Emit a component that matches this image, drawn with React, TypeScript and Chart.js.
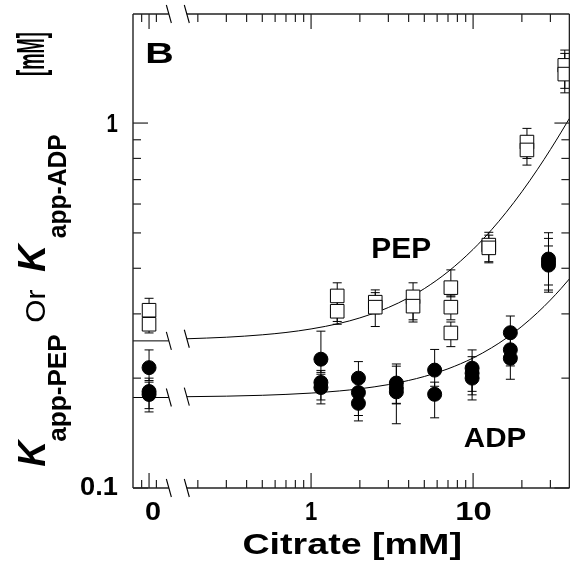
import React, { useEffect, useRef } from "react";
import { Chart, registerables } from "chart.js";

Chart.register(...registerables);

// ---- axis constants (broken log axis: citrate = 0 is placed at ZERO_POS) ----
const ZERO_POS = 0.1;
const BREAK_LO = 0.1325;
const BREAK_HI = 0.171;
const X_MIN = 0.0796;
const X_MAX = 39.3;
const Y_MIN = 0.1;
const Y_MAX = 1.99;

// ---- PEP (open squares) ----
const pepCitrate = [0, 0, 1.45, 1.45, 2.49, 2.49, 4.26, 4.26, 7.29, 7.29, 7.29, 12.5, 12.5, 21.5, 21.5, 36.8, 36.8];
const pepK = [0.307, 0.281, 0.336, 0.305, 0.323, 0.313, 0.334, 0.315, 0.354, 0.313, 0.266, 0.463, 0.455, 0.887, 0.844, 1.439, 1.362];
const pepLow = [0.29, 0.266, 0.286, 0.281, 0.3, 0.277, 0.289, 0.285, 0.334, 0.289, 0.244, 0.417, 0.414, 0.8, 0.767, 1.245, 1.21];
const pepHigh = [0.331, 0.295, 0.365, 0.33, 0.349, 0.343, 0.365, 0.34, 0.396, 0.336, 0.285, 0.502, 0.493, 0.967, 0.92, 1.585, 1.552];

// ---- ADP (filled circles) ----
const adpCitrate = [0, 0, 0, 1.15, 1.15, 1.15, 1.96, 1.96, 1.96, 3.36, 3.36, 3.36, 5.79, 5.79, 9.86, 9.86, 9.86, 16.98, 16.98, 16.98, 29.2, 29.2, 29.2];
const adpK = [0.2137, 0.1838, 0.1804, 0.2254, 0.1946, 0.1885, 0.2, 0.1826, 0.1706, 0.1939, 0.188, 0.1834, 0.2104, 0.1806, 0.213, 0.2063, 0.2, 0.2664, 0.2392, 0.2267, 0.424, 0.408, 0.416];
const adpLow = [0.197, 0.1616, 0.165, 0.2074, 0.1743, 0.17, 0.185, 0.158, 0.1527, 0.1706, 0.15, 0.17, 0.19, 0.1557, 0.184, 0.18, 0.1743, 0.245, 0.216, 0.1986, 0.3487, 0.344, 0.36];
const adpHigh = [0.239, 0.2, 0.195, 0.269, 0.21, 0.205, 0.222, 0.2, 0.185, 0.2187, 0.2157, 0.2, 0.2397, 0.195, 0.239, 0.229, 0.215, 0.296, 0.26, 0.24, 0.5006, 0.483, 0.4605];

// ---- fitted curves ----
const curveZeroX = [X_MIN, BREAK_LO];
const pepCurveZeroY = [0.253, 0.253];
const adpCurveZeroY = [0.177, 0.177];
const curveX = [0.171, 0.3, 0.5, 0.7, 1, 1.5, 2, 3, 4, 5, 7, 10, 13, 16, 20, 25, 30, 35, 39.3];
const pepCurveY = [0.2564, 0.2589, 0.2629, 0.2668, 0.2728, 0.2826, 0.2925, 0.3123, 0.3321, 0.3518, 0.3914, 0.4507, 0.51, 0.5693, 0.6483, 0.7472, 0.846, 0.9448, 1.0298];
const adpCurveY = [0.1779, 0.1785, 0.1795, 0.1805, 0.182, 0.1845, 0.187, 0.192, 0.1971, 0.2021, 0.2121, 0.2271, 0.2422, 0.2572, 0.2773, 0.3024, 0.3274, 0.3525, 0.3741];

// ---- ticks ----
const xMajorTicks = [0.1, 1, 10];
const xTickLabels = ["0", "1", "10"];
const xMinorTicks = [0.09, 0.111, 0.2, 0.3, 0.4, 0.5, 0.6, 0.7, 0.8, 0.9, 2, 3, 4, 5, 6, 7, 8, 9, 20, 30];
const yMajorTicks = [0.1, 1];
const yTickLabels = ["0.1", "1"];
const yMinorTicks = [0.2, 0.3, 0.4, 0.5, 0.6, 0.7, 0.8, 0.9];

// ---- annotations (data coordinates) ----
const annoText = ["B", "PEP", "ADP"];
const annoX = [0.0985, 2.39, 8.77];
const annoY = [1.457, 0.427, 0.1298];

const FONT = '"Liberation Sans", Arial, Helvetica, sans-serif';

function toPts(xs: number[], ys: number[]) {
  return xs.map((x, i) => ({ x: x === 0 ? ZERO_POS : x, y: ys[i] }));
}

function inkText(ctx: CanvasRenderingContext2D, text: string, font: string, x0: number, x1: number, baseline: number) {
  ctx.save();
  ctx.font = font;
  ctx.textAlign = "left";
  ctx.textBaseline = "alphabetic";
  const m = ctx.measureText(text);
  const inkW = m.actualBoundingBoxLeft + m.actualBoundingBoxRight;
  const sx = (x1 - x0) / inkW;
  ctx.translate(x0, baseline);
  ctx.scale(sx, 1);
  ctx.fillText(text, m.actualBoundingBoxLeft, 0);
  ctx.restore();
}

function inkTextUp(ctx: CanvasRenderingContext2D, text: string, font: string, yBottom: number, yTop: number, baseX: number) {
  ctx.save();
  ctx.font = font;
  ctx.textAlign = "left";
  ctx.textBaseline = "alphabetic";
  const m = ctx.measureText(text);
  const inkW = m.actualBoundingBoxLeft + m.actualBoundingBoxRight;
  const sx = (yBottom - yTop) / inkW;
  ctx.translate(baseX, yBottom);
  ctx.rotate(-Math.PI / 2);
  ctx.scale(sx, 1);
  ctx.fillText(text, m.actualBoundingBoxLeft, 0);
  ctx.restore();
}

function seg(ctx: CanvasRenderingContext2D, x1: number, y1: number, x2: number, y2: number) {
  ctx.beginPath();
  ctx.moveTo(x1, y1);
  ctx.lineTo(x2, y2);
  ctx.stroke();
}

const decorPlugin = {
  id: "decor",
  beforeDatasetsDraw(chart: any) {
    const ctx: CanvasRenderingContext2D = chart.ctx;
    const ys = chart.scales.y;
    ctx.save();
    ctx.strokeStyle = "#000";
    ctx.lineWidth = 1;
    chart.data.datasets.forEach((ds: any, i: number) => {
      if (!ds.errLow) return;
      const meta = chart.getDatasetMeta(i);
      meta.data.forEach((el: any, j: number) => {
        const x = el.x;
        const yl = ys.getPixelForValue(ds.errLow[j]);
        const yh = ys.getPixelForValue(ds.errHigh[j]);
        seg(ctx, x, yl, x, yh);
        seg(ctx, x - 4.5, yl, x + 4.5, yl);
        seg(ctx, x - 4.5, yh, x + 4.5, yh);
      });
    });
    ctx.restore();
  },
  afterDraw(chart: any) {
    const ctx: CanvasRenderingContext2D = chart.ctx;
    const xs = chart.scales.x;
    const ys = chart.scales.y;
    const { left, right, top, bottom } = chart.chartArea;
    const bLo = xs.getPixelForValue(BREAK_LO);
    const bHi = xs.getPixelForValue(BREAK_HI);
    ctx.save();
    ctx.strokeStyle = "#222";
    ctx.lineWidth = 1.4;
    // axis lines
    seg(ctx, left, top, left, bottom);
    seg(ctx, right, top, right, bottom);
    seg(ctx, left, bottom, bLo, bottom);
    seg(ctx, bHi, bottom, right, bottom);
    seg(ctx, left, top, bLo, top);
    seg(ctx, bHi, top, right, top);
    // ticks
    ctx.lineWidth = 1.2;
    const MAJ = 15, MIN = 8;
    xMajorTicks.forEach((v) => {
      const px = xs.getPixelForValue(v);
      seg(ctx, px, bottom, px, bottom - MAJ);
      seg(ctx, px, top, px, top + MAJ);
    });
    xMinorTicks.forEach((v) => {
      const px = xs.getPixelForValue(v);
      seg(ctx, px, bottom, px, bottom - MIN);
      seg(ctx, px, top, px, top + MIN);
    });
    yMajorTicks.forEach((v) => {
      const py = ys.getPixelForValue(v);
      seg(ctx, left, py, left + MAJ, py);
      seg(ctx, right, py, right - MAJ, py);
    });
    yMinorTicks.forEach((v) => {
      const py = ys.getPixelForValue(v);
      seg(ctx, left, py, left + MIN, py);
      seg(ctx, right, py, right - MIN, py);
    });
    // break slashes
    ctx.lineWidth = 1.1;
    ctx.strokeStyle = "#000";
    const slash = (x: number, y: number) => seg(ctx, x - 2.5, y - 9, x + 2.5, y + 9);
    [bLo, bHi].forEach((x) => {
      slash(x, bottom);
      slash(x, top);
    });
    slash(bLo, ys.getPixelForValue(pepCurveZeroY[1]));
    slash(bHi, ys.getPixelForValue(pepCurveY[0]));
    slash(bLo, ys.getPixelForValue(adpCurveZeroY[1]));
    slash(bHi, ys.getPixelForValue(adpCurveY[0]));
    ctx.restore();

    // tick labels
    ctx.save();
    ctx.fillStyle = "#000";
    const tickFont = `bold 25px ${FONT}`;
    const xInk = [15, 11.5, 34];
    xMajorTicks.forEach((v, i) => {
      const px = xs.getPixelForValue(v) + (i === 0 ? 3.5 : 0.5);
      inkText(ctx, xTickLabels[i], tickFont, px - xInk[i] / 2, px + xInk[i] / 2, 520);
    });
    const yInk = [38, 10.6];
    yMajorTicks.forEach((v, i) => {
      const py = ys.getPixelForValue(v);
      const base = i === 0 ? py + 6.5 : py + 8.5;
      inkText(ctx, yTickLabels[i], tickFont, 118 - yInk[i], 118, base);
    });

    // x title
    const cx = (left + right) / 2 + 1;
    inkText(ctx, "Citrate [mM]", `bold 30px ${FONT}`, cx - 108.5, cx + 108.5, 553.5);

    // y title (rotated pieces)
    const kFont = `italic bold 39px ${FONT}`;
    const subFont = `bold 25px ${FONT}`;
    inkTextUp(ctx, "K", kFont, 466.7, 438.3, 45);
    inkTextUp(ctx, "app-PEP", subFont, 441.7, 335, 65.5);
    inkTextUp(ctx, "Or", `28px ${FONT}`, 321.7, 290, 45);
    inkTextUp(ctx, "K", kFont, 272, 242, 45);
    inkTextUp(ctx, "app-ADP", subFont, 238.3, 135, 65.5);
    inkTextUp(ctx, "[mM]", `bold 39px ${FONT}`, 75, 33, 44);

    // annotations
    const annoFont = [`bold 30px ${FONT}`, `bold 29px ${FONT}`, `bold 28px ${FONT}`];
    const annoW = [25, 58.4, 61.7];
    annoText.forEach((t, i) => {
      const x0 = xs.getPixelForValue(annoX[i]);
      const y0 = ys.getPixelForValue(annoY[i]);
      inkText(ctx, t, annoFont[i], x0, x0 + annoW[i], y0);
    });
    ctx.restore();
  },
};

export default function App() {
  const ref = useRef<HTMLCanvasElement>(null);
  useEffect(() => {
    const canvas = ref.current!;
    const lineStyle = {
      showLine: true,
      pointRadius: 0,
      borderColor: "#000",
      borderWidth: 1,
      backgroundColor: "#000",
      order: 3,
      cubicInterpolationMode: "monotone" as const,
    };
    const chart = new Chart(canvas, {
      type: "scatter",
      data: {
        datasets: [
          { ...lineStyle, label: "PEP fit (0)", data: toPts(curveZeroX, pepCurveZeroY) },
          { ...lineStyle, label: "PEP fit", data: toPts(curveX, pepCurveY) },
          { ...lineStyle, label: "ADP fit (0)", data: toPts(curveZeroX, adpCurveZeroY) },
          { ...lineStyle, label: "ADP fit", data: toPts(curveX, adpCurveY) },
          {
            label: "PEP",
            data: toPts(pepCitrate, pepK),
            pointStyle: "rect",
            pointRadius: 9.6,
            backgroundColor: "#fff",
            borderColor: "#000",
            borderWidth: 1,
            order: 1,
            errLow: pepLow,
            errHigh: pepHigh,
          } as any,
          {
            label: "ADP",
            data: toPts(adpCitrate, adpK),
            pointStyle: "circle",
            pointRadius: 7,
            backgroundColor: "#000",
            borderColor: "#000",
            borderWidth: 1,
            order: 1,
            errLow: adpLow,
            errHigh: adpHigh,
          } as any,
        ],
      },
      options: {
        responsive: false,
        animation: false,
        devicePixelRatio: 1,
        layout: { padding: { left: 133, top: 14, right: 9, bottom: 89 } },
        plugins: { legend: { display: false }, tooltip: { enabled: false } },
        scales: {
          x: { type: "logarithmic", min: X_MIN, max: X_MAX, display: false },
          y: { type: "logarithmic", min: Y_MIN, max: Y_MAX, display: false },
        },
      },
      plugins: [decorPlugin],
    });
    return () => chart.destroy();
  }, []);
  return (
    <div
      style={{
        position: "fixed",
        left: 0,
        top: 0,
        width: 570,
        height: 577,
        overflow: "hidden",
        background: "#fff",
      }}
    >
      <canvas ref={ref} width={580} height={577} style={{ display: "block", width: 580, height: 577 }} />
    </div>
  );
}
